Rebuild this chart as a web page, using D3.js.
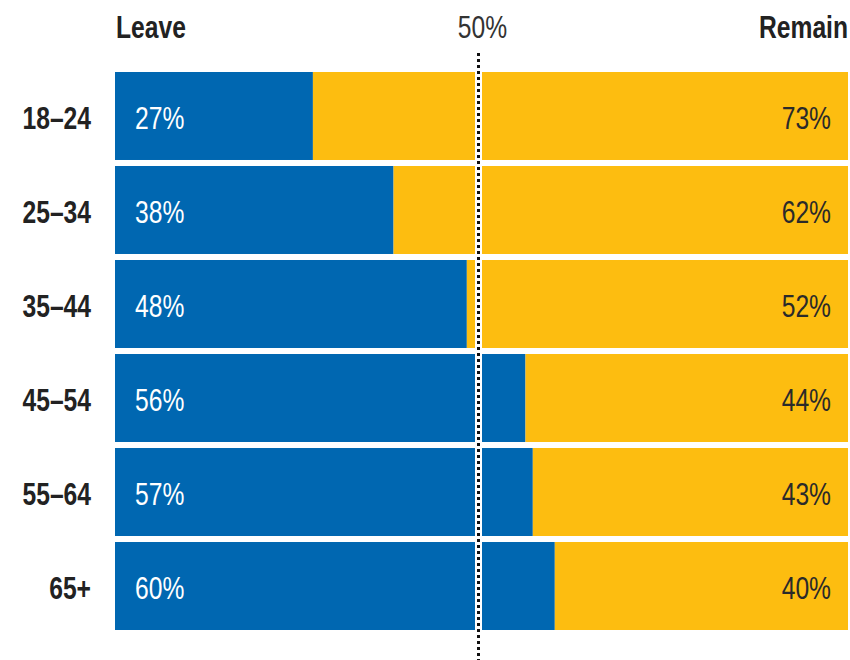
<!DOCTYPE html>
<html>
<head>
<meta charset="utf-8">
<script src="https://cdn.jsdelivr.net/npm/d3@7"></script>
<style>
  html, body { margin: 0; padding: 0; background: #fff; }
  svg { display: block; }
  text { font-family: "Liberation Sans", Arial, Helvetica, sans-serif; }
</style>
</head>
<body>
<svg id="chart" width="850" height="660"></svg>
<script>
const ageGroups = ["18–24", "25–34", "35–44", "45–54", "55–64", "65+"];
const leaveValues = [27, 38, 48, 56, 57, 60];
const remainValues = [73, 62, 52, 44, 43, 40];
const headerLabels = { left: "Leave", mid: "50%", right: "Remain" };
const midValue = 50;

(function () {
const W = 850, H = 660;
const mLeft = 115, mRight = 848, mTop = 72, mBottom = 630;
const blue = "#0067b1", yellow = "#fdbd10";
const fs = 32, sx = 0.77;

const svg = d3.select("#chart");
const x = d3.scaleLinear().domain([0, 100]).range([mLeft, mRight]);
const y = d3.scaleBand().domain(ageGroups).range([mTop, mBottom]).paddingInner(0.064).paddingOuter(0);

const data = ageGroups.map((g, i) => ({ g, leave: leaveValues[i], remain: remainValues[i] }));

function label(parent, tx, ty, txt, opts) {
  const g = parent.append("g").attr("transform", `translate(${tx},${ty}) scale(${sx},1)`);
  g.append("text")
    .attr("text-anchor", opts.anchor || "start")
    .attr("font-size", opts.size || fs)
    .attr("font-weight", opts.weight || "normal")
    .attr("fill", opts.fill || "#222")
    .text(txt);
  return g;
}

const rows = svg.append("g").selectAll("g").data(data).join("g");
rows.append("rect")
  .attr("x", x(0)).attr("y", d => y(d.g))
  .attr("width", d => x(d.leave) - x(0))
  .attr("height", y.bandwidth())
  .attr("fill", blue);
rows.append("rect")
  .attr("x", d => x(d.leave)).attr("y", d => y(d.g))
  .attr("width", d => x(d.leave + d.remain) - x(d.leave))
  .attr("height", y.bandwidth())
  .attr("fill", yellow);

const midX = x(midValue) - 3;
svg.append("line").attr("x1", midX).attr("x2", midX).attr("y1", mTop).attr("y2", H)
  .attr("stroke", "#fff").attr("stroke-width", 7);
svg.append("line").attr("x1", midX).attr("x2", midX).attr("y1", 53).attr("y2", H)
  .attr("stroke", "#111").attr("stroke-width", 3).attr("stroke-dasharray", "3,3");

data.forEach(d => {
  const cy = y(d.g) + y.bandwidth() / 2 + 13;
  label(svg, 91, cy, d.g, { anchor: "end", weight: "bold", fill: "#222" });
  label(svg, x(0) + 20, cy, d.leave + "%", { anchor: "start", fill: "#fff" });
  label(svg, x(100) - 17, cy, d.remain + "%", { anchor: "end", fill: "#2a2a2a" });
});

label(svg, 116, 38, headerLabels.left, { anchor: "start", weight: "bold", fill: "#222" });
label(svg, x(midValue) + 1, 38, headerLabels.mid, { anchor: "middle", fill: "#333" });
label(svg, 848, 38, headerLabels.right, { anchor: "end", weight: "bold", fill: "#222" });
})();
</script>
</body>
</html>
